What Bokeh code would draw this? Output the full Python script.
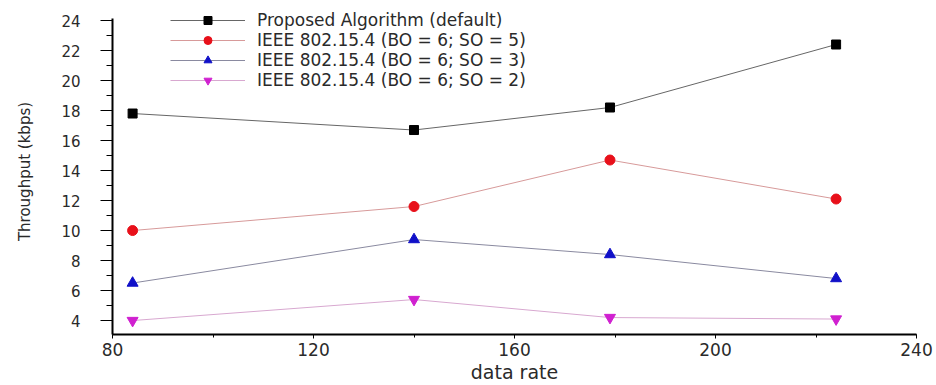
from bokeh.plotting import figure
from bokeh.models import Legend, LegendItem, SingleIntervalTicker, Range1d
from bokeh.embed import file_html
from bokeh.resources import INLINE

# ---- data ----
data_rate = [84, 140, 179, 224]
proposed = [17.8, 16.7, 18.2, 22.4]
so5 = [10.0, 11.6, 14.7, 12.1]
so3 = [6.5, 9.4, 8.4, 6.8]
so2 = [4.0, 5.4, 4.2, 4.1]

labels = [
    "Proposed Algorithm (default)",
    "IEEE 802.15.4 (BO = 6; SO = 5)",
    "IEEE 802.15.4 (BO = 6; SO = 3)",
    "IEEE 802.15.4 (BO = 6; SO = 2)",
]
x_label = "data rate"
y_label = "Throughput (kbps)"

FONT = "DejaVu Sans"
TXT = "#2a2a2a"

# y axis drawn from 3.07 to 24.13; the frame extends a little higher so the legend fits inside it
p = figure(width=936, height=385, output_backend="svg", toolbar_location=None,
           x_range=Range1d(80, 240), y_range=Range1d(3.07, 24.8),
           min_border_left=112, min_border_right=20, min_border_top=8,
           min_border_bottom=51)
p.outline_line_color = None
p.grid.visible = False
p.background_fill_color = "white"

series = [
    (proposed, "#666666", "black", "square", 9),
    (so5, "#d79a9a", "#e8101a", "circle", 10),
    (so3, "#8a8aa0", "#1010c8", "triangle", 11),
    (so2, "#d8a8d0", "#d020d0", "inverted_triangle", 11),
]

items = []
for (vals, lc, mc, mk, sz), lab in zip(series, labels):
    lr = p.line(data_rate, vals, line_color=lc, line_width=1)
    sr = p.scatter(data_rate, vals, marker=mk, size=sz, fill_color=mc, line_color=mc)
    items.append(LegendItem(label=lab, renderers=[lr, sr]))

legend = Legend(items=items, location=(58, 244), padding=0, margin=0, spacing=0,
                glyph_width=75, glyph_height=20, label_standoff=12, label_height=20,
                border_line_alpha=0, background_fill_alpha=0,
                label_text_font=FONT, label_text_font_size="17px",
                label_text_color=TXT)
p.add_layout(legend, "center")

# axes
p.xaxis.ticker = SingleIntervalTicker(interval=40, num_minor_ticks=2)
p.yaxis.ticker = SingleIntervalTicker(interval=2, num_minor_ticks=2)
p.yaxis.bounds = (3.07, 24.13)
for ax in (p.xaxis[0], p.yaxis[0]):
    ax.axis_line_width = 2
    ax.axis_line_color = "black"
    ax.major_tick_line_color = "black"
    ax.minor_tick_line_color = "black"
    ax.major_tick_in = 0
    ax.minor_tick_in = 0
    ax.major_label_text_font = FONT
    ax.major_label_text_color = TXT
    ax.axis_label_text_font = FONT
    ax.axis_label_text_color = TXT
    ax.axis_label_text_font_style = "normal"

p.xaxis.major_tick_out = 4
p.xaxis.minor_tick_out = 3
p.xaxis.major_label_standoff = 4
p.xaxis.major_label_text_font_size = "17px"
p.xaxis.axis_label = x_label
p.xaxis.axis_label_text_font_size = "19px"
p.xaxis.axis_label_standoff = 2

p.yaxis.major_tick_out = 12
p.yaxis.minor_tick_out = 6
p.yaxis.major_label_standoff = 20
p.yaxis.major_label_text_font_size = "15px"
p.yaxis.axis_label = y_label
p.yaxis.axis_label_text_font_size = "15px"
p.yaxis.axis_label_standoff = 24

open("out.html", "w").write(file_html(p, INLINE))
